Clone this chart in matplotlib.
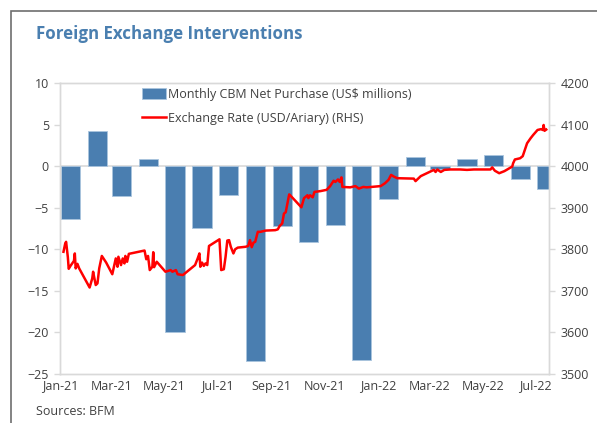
import numpy as np
import pandas as pd
import matplotlib
matplotlib.use("Agg")
import matplotlib.pyplot as plt
import matplotlib.dates as mdates
from matplotlib.patches import Rectangle

plt.rcParams['font.family'] = ['Open Sans', 'DejaVu Sans']

# Monthly CBM net purchases (US$ millions), Jan-21 .. Jul-22
months = pd.date_range("2021-01-01", "2022-07-01", freq="MS")
net_purchase = [-6.3, 4.2, -3.6, 0.85, -19.9, -7.5, -3.45, -23.4, -7.2, -9.15,
                -7.1, -23.3, -3.9, 1.1, -0.36, 0.8, 1.3, -1.6, -2.8]

# Exchange rate (USD/Ariary), days counted from 2021-01-01
fx_day = [4, 6, 7, 9, 10, 12, 16, 17, 18, 20, 22, 34, 37, 38, 41, 43, 45, 48, 53, 60,
          64, 66, 67, 70, 72, 74, 75, 77, 79, 97, 99, 101, 103, 106, 107, 108, 111, 121,
          127, 129, 133, 135, 141, 155, 158, 160, 161, 163, 165, 167, 169, 171, 183, 184,
          185, 188, 190, 192, 194, 196, 199, 201, 204, 213, 216, 218, 220, 222, 224, 227,
          230, 236, 247, 250, 252, 255, 257, 259, 261, 263, 265, 277, 280, 284, 285, 287,
          290, 292, 299, 306, 310, 314, 316, 319, 321, 323, 324, 333, 339, 343, 348, 352,
          368, 373, 377, 380, 383, 387, 406, 408, 410, 414, 425, 429, 431, 433, 437, 441,
          448, 459, 467, 475, 494, 496, 499, 504, 510, 519, 520, 522, 528, 531, 536, 540,
          543, 548, 552, 554, 555, 556, 558]
fx_rate = [3794, 3814, 3818, 3781, 3753, 3760, 3772, 3790, 3754, 3765, 3754, 3708, 3730,
           3746, 3714, 3718, 3754, 3784, 3768, 3740, 3778, 3758, 3782, 3762, 3778, 3766,
           3784, 3770, 3789, 3797, 3776, 3784, 3750, 3758, 3793, 3757, 3770, 3746, 3750,
           3746, 3750, 3740, 3738, 3762, 3778, 3790, 3758, 3768, 3760, 3766, 3762, 3808,
           3824, 3786, 3750, 3752, 3782, 3821, 3822, 3806, 3790, 3800, 3804, 3806, 3808,
           3822, 3805, 3816, 3818, 3842, 3842, 3845, 3846, 3848, 3856, 3862, 3886, 3889,
           3911, 3932, 3928, 3901, 3923, 3930, 3923, 3930, 3925, 3938, 3940, 3943, 3952,
           3965, 3962, 3968, 3962, 3973, 3950, 3949, 3952, 3946, 3950, 3949, 3952, 3959,
           3967, 3979, 3975, 3971, 3970, 3964, 3968, 3976, 3987, 3991, 3986, 3992, 3986,
           3991, 3992, 3992, 3991, 3992, 3992, 3997, 3989, 3983, 3988, 3999, 4007, 4016,
           4019, 4024, 4055, 4067, 4075, 4087, 4089, 4087, 4099, 4085, 4088]

start = pd.Timestamp("2021-01-01")
fx_dates = start + pd.to_timedelta(fx_day, unit="D")

bar_color = "#4a7eb0"
line_color = "#ff0000"
text_color = "#404040"
frame_color = "#d9d9d9"

fig = plt.figure(figsize=(5.97, 4.23), dpi=100)
ax = fig.add_axes([60 / 597, 49 / 423, 489.3 / 597, 291 / 423])
ax2 = ax.twinx()

# bars sit mid-month on the date axis
bar_x = months + pd.Timedelta(days=12)
ax.bar(bar_x, net_purchase, width=22, color=bar_color, edgecolor="#a9c4de",
       linewidth=0.6, label="Monthly CBM Net Purchase (US$ millions)", zorder=2)
ax.axhline(0, color=frame_color, lw=1.2, zorder=1)

ax2.plot(fx_dates, fx_rate, color=line_color, lw=1.8,
         label="Exchange Rate (USD/Ariary) (RHS)")

ax.set_xlim(start, start + pd.Timedelta(days=561.5))
ax.set_ylim(-25, 10)
ax.set_yticks(np.arange(-25, 11, 5))
ax2.set_ylim(3500, 4200)
ax2.set_yticks(np.arange(3500, 4201, 100))

ax.xaxis.set_major_locator(mdates.MonthLocator(bymonth=[1, 3, 5, 7, 9, 11]))
ax.xaxis.set_major_formatter(mdates.DateFormatter("%b-%y"))

for a in (ax, ax2):
    for s in a.spines.values():
        s.set_color(frame_color)
        s.set_linewidth(1.0)
    a.tick_params(axis="y", colors=frame_color, labelcolor=text_color,
                  labelsize=9, length=4, width=1, pad=4)
ax.tick_params(axis="x", length=0, labelsize=9, labelcolor=text_color, pad=4)

handles = ax.get_legend_handles_labels()[0] + ax2.get_legend_handles_labels()[0]
labels = [h.get_label() for h in handles]
leg = fig.legend(handles, labels, loc="upper left",
                 bbox_to_anchor=(142 / 597, 1 - 88 / 423), frameon=False,
                 fontsize=9, borderpad=0, borderaxespad=0, handlelength=1.95,
                 handleheight=0.9, handletextpad=0.15, labelspacing=0.85)
for t in leg.get_texts():
    t.set_color(text_color)

fig.text(36 / 597, 1 - 34 / 423, "Foreign Exchange Interventions", fontsize=12.2,
         fontweight="bold", color="#4a7fb0", va="center")
fig.text(36 / 597, 1 - 411 / 423, "Sources: BFM", fontsize=9, color=text_color,
         va="center")

# outer frame (only the left and top edges are inside the picture)
fig.patches.append(Rectangle((11 / 597, -0.2), 1.2, 1.2 - 11 / 423,
                             transform=fig.transFigure, fill=False,
                             edgecolor="#6e6e6e", linewidth=1.2))

fig.savefig("out.png", dpi=100)
